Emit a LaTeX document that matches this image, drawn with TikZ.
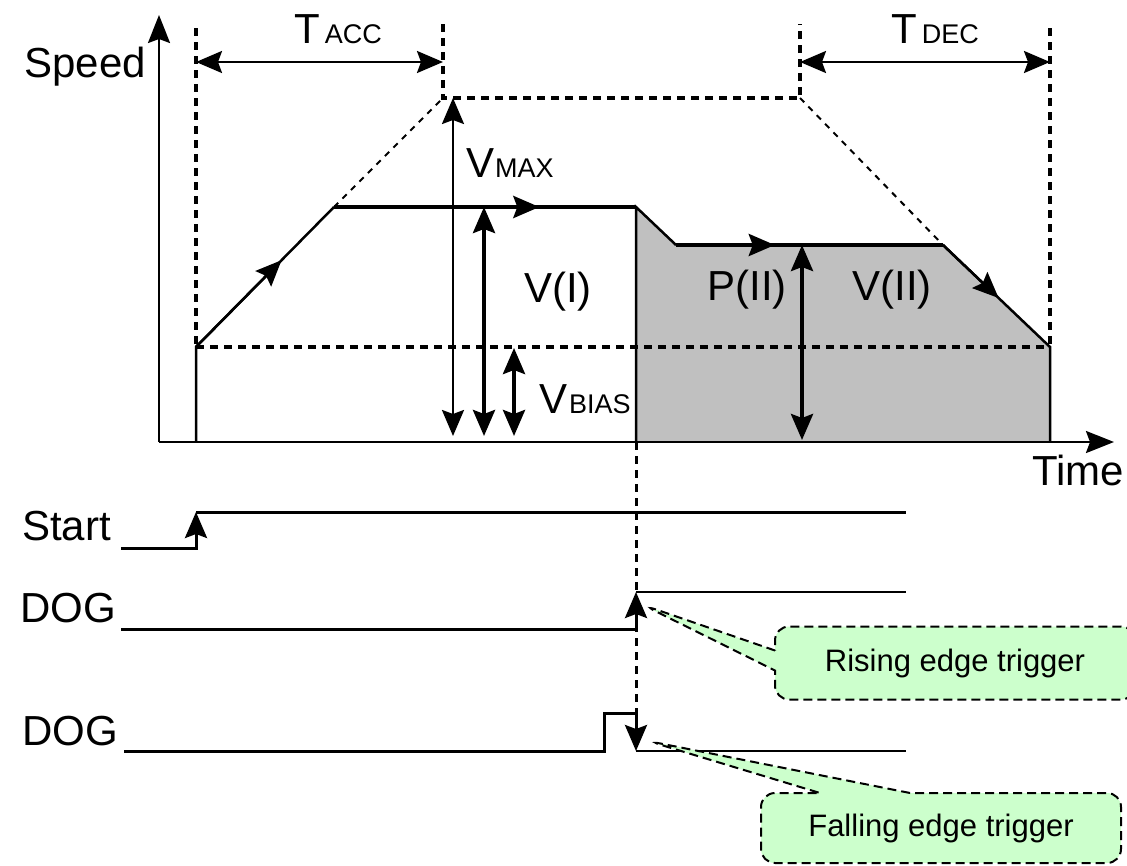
\documentclass[tikz,border=0pt]{standalone}
\usepackage{fontspec}
\setmainfont{Liberation Sans}
\usepackage{xcolor}
\usepackage{tikz}
\usetikzlibrary{arrows.meta, positioning, calc, shapes.callouts}

\definecolor{areagray}{HTML}{C0C0C0}
\definecolor{notegreen}{HTML}{CCFFCC}
\newcommand{\smalltag}[1]{{\fontsize{27}{30}\selectfont #1}}

\begin{document}
\begin{tikzpicture}[
        x=1pt, y=-1pt,
        every node/.style={font=\fontsize{42}{46}\selectfont, inner sep=0pt},
        axis/.style={line width=2.5pt, -{Stealth[length=28pt, width=22pt, inset=4pt]}},
        edge/.style={line width=2.5pt},
        flat/.style={line width=4pt},
        guide/.style={line width=4pt, dash pattern=on 8pt off 6pt},
        hint/.style={line width=2pt, dash pattern=on 6pt off 6pt},
        span/.style={line width=2.5pt,
        {Stealth[length=26pt, width=22pt, inset=4pt]}-{Stealth[length=26pt, width=22pt, inset=4pt]}},
        heavyspan/.style={span, line width=4pt},
        tip/.style={-{Stealth[length=26pt, width=22pt, inset=4pt]}},
        signal/.style={line width=3pt},
        faint/.style={line width=1.5pt},
        trace/.style={line width=3pt, dash pattern=on 8pt off 6pt},
        note/.style={rectangle callout, draw, fill=notegreen,
        rounded corners=14pt, line width=2pt, dash pattern=on 9pt off 5pt,
        minimum width=360pt, font=\fontsize{31}{34}\selectfont},
      ]

      \useasboundingbox (0,0) rectangle (1127,865);

      \coordinate (O) at (159,442);
      \coordinate (ymax) at (159,15);
      \coordinate (xmax) at (1114,442);

      \coordinate (s0) at (196,442);
      \coordinate (s1) at (196,347);
      \coordinate (s2) at (334,207);
      \coordinate (s3) at (636,207);
      \coordinate (s4) at (676,245);
      \coordinate (s5) at (943,245);
      \coordinate (s6) at (1050,347);
      \coordinate (s7) at (1050,442);
      \coordinate (s8) at (636,442);
      \coordinate (peakL) at (443,98);
      \coordinate (peakR) at (800,98);
      \coordinate (accL) at (196,28);
      \coordinate (accR) at (443,24);
      \coordinate (decL) at (800,24);
      \coordinate (decR) at (1050,28);

      \fill[areagray] (s8) -- (s3) -- (s4) -- (s5) -- (s6) -- (s7) -- cycle;

      \draw[guide] (accL) -- (s1);
      \draw[guide] (accR) -- (peakL) -- (peakR) -- (decL);
      \draw[guide] (decR) -- (s6);
      \draw[guide] (s1) -- (s6);
      \draw[hint] (s2) -- (peakL);
      \draw[hint] (peakR) -- (s5);

      \draw[edge] (s0) -- (s1) -- (s2);
      \draw[flat] (s2) -- (s3);
      \draw[edge] (s8) -- (s3) -- (s4);
      \draw[flat] (s4) -- (s5);
      \draw[edge] (s5) -- (s6) -- (s7);
      \draw[edge, tip] (s1) -- ($(s1)!0.62!(s2)$);
      \draw[flat, tip] (s2) -- ($(s2)!0.68!(s3)$);
      \draw[flat, tip] (s4) -- ($(s4)!0.37!(s5)$);
      \draw[edge, tip] (s5) -- ($(s5)!0.52!(s6)$);

      \draw[axis] (O) -- (ymax);
      \draw[axis] (O) -- (xmax);

      \coordinate (taccL) at (196,62);
      \coordinate (taccR) at (443,62);
      \coordinate (tdecL) at (800,62);
      \coordinate (tdecR) at (1050,62);
      \draw[span] (taccL) -- (taccR);
      \draw[span] (tdecL) -- (tdecR);

      \coordinate (vmaxT) at (453,98);
      \coordinate (vmaxB) at (453,436);
      \coordinate (voneT) at (484,207);
      \coordinate (voneB) at (484,436);
      \coordinate (vbiasT) at (514,348);
      \coordinate (vbiasB) at (514,436);
      \coordinate (vtwoT) at (802,245);
      \coordinate (vtwoB) at (802,440);
      \draw[span] (vmaxT) -- (vmaxB);
      \draw[heavyspan] (voneT) -- (voneB);
      \draw[heavyspan] (vbiasT) -- (vbiasB);
      \draw[heavyspan] (vtwoT) -- (vtwoB);

      \node[anchor=base east] (speed) at (146,77) {Speed};
      \node[anchor=base west] (time) at (1032,485) {Time};
      \node[anchor=base west] (tacc) at (294,43) {T\kern5pt\smalltag{ACC}};
      \node[anchor=base west] (tdec) at (891,43) {T\kern5pt\smalltag{DEC}};
      \node[anchor=base west] (vmax) at (466,177) {V\kern1pt\smalltag{MAX}};
      \node[anchor=base] (vone) at (558,302) {V(I)};
      \node[anchor=base] (ptwo) at (747,300) {P(II)};
      \node[anchor=base] (vtwo) at (892,300) {V(II)};
      \node[anchor=base west] (vbias) at (539,413) {V\kern2pt\smalltag{BIAS}};

      \coordinate (st0) at (121,548);
      \coordinate (st1) at (196,548);
      \coordinate (st2) at (196,512);
      \coordinate (st3) at (906,512);
      \draw[signal, tip] (st0) -- (st1) -- (st2);
      \draw[signal] (st2) -- (st3);

      \coordinate (da0) at (121,629);
      \coordinate (da1) at (636,629);
      \coordinate (da2) at (636,592);
      \coordinate (da3) at (906,592);
      \draw[signal, tip] (da0) -- (da1) -- (da2);
      \draw[faint] (da2) -- (da3);

      \coordinate (db0) at (124,751);
      \coordinate (db1) at (604,751);
      \coordinate (db2) at (604,713);
      \coordinate (db3) at (636,713);
      \coordinate (db4) at (636,751);
      \coordinate (db5) at (906,751);
      \draw[signal, tip] (db0) -- (db1) -- (db2) -- (db3) -- (db4);
      \draw[faint] (db4) -- (db5);
      \draw[trace] (s8) -- (db3);

      \node[anchor=base east] (start) at (111,540) {Start};
      \node[anchor=base east] (dog1) at (116,622) {DOG};
      \node[anchor=base east] (dog2) at (118,745) {DOG};

      \coordinate (risetip) at (643,605);
      \coordinate (falltip) at (648,741);
      \node[note, minimum height=73pt, callout absolute pointer={(risetip)},
      callout pointer width=20pt] (risenote) at (955,663) {Rising edge trigger};
      \node[note, minimum height=70pt, callout absolute pointer={(falltip)},
      callout pointer width=90pt] (fallnote) at (941,828) {Falling edge trigger};

    \end{tikzpicture}
\end{document}
